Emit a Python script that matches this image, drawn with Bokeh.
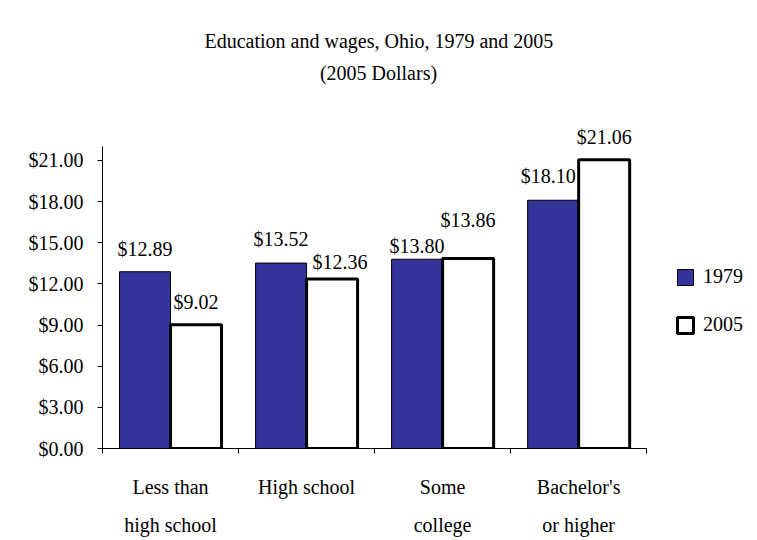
from bokeh.plotting import figure
from bokeh.models import (ColumnDataSource, Range1d, LinearAxis, Label,
                          FixedTicker, NumeralTickFormatter, Legend, LegendItem, LabelSet, Title)
from bokeh.embed import file_html
from bokeh.resources import INLINE

categories = ["Less than\nhigh school", "High school", "Some\ncollege", "Bachelor's\nor higher"]
wages_1979 = [12.89, 13.52, 13.80, 18.10]
wages_2005 = [9.02, 12.36, 13.86, 21.06]
series_names = ["1979", "2005"]
y_ticks = [0, 3, 6, 9, 12, 15, 18, 21]
title_text = "Education and wages, Ohio, 1979 and 2005"
subtitle_text = "(2005 Dollars)"

# small hand nudges of the value labels (screen px), as in the original
nudge_dx_1979 = [0, 0, 0, -5]
nudge_dy_1979 = [16, 17, 6, 17]
nudge_dx_2005 = [0, 8, 0, 0]
nudge_dy_2005 = [16, 10, 31, 16]

FONT = "Liberation Serif"
bw = 0.375
n = len(categories)
centers = [i + 0.5 for i in range(n)]

src = ColumnDataSource(dict(
    x79=[c - bw / 2 for c in centers], x05=[c + bw / 2 for c in centers],
    w79=wages_1979, w05=wages_2005,
    t79=["${:.2f}".format(v) for v in wages_1979],
    t05=["${:.2f}".format(v) for v in wages_2005],
    dx79=nudge_dx_1979, dy79=nudge_dy_1979,
    dx05=nudge_dx_2005, dy05=nudge_dy_2005,
))

p = figure(width=757, height=540, x_range=Range1d(0, 4.8), y_range=Range1d(0, 28.29),
           output_backend="svg", toolbar_location=None, x_axis_location=None, y_axis_location=None,
           min_border_left=102, min_border_right=2, min_border_top=60, min_border_bottom=92)
p.outline_line_color = None
p.xgrid.visible = False
p.ygrid.visible = False
p.background_fill_color = "white"
p.border_fill_color = "white"

# y axis
yax = LinearAxis(ticker=FixedTicker(ticks=y_ticks), formatter=NumeralTickFormatter(format="$0.00"),
                 bounds=(0, 22))
yax.major_tick_in = 0
yax.major_tick_out = 5
yax.minor_tick_line_color = None
yax.axis_line_color = "black"
yax.major_tick_line_color = "black"
yax.major_label_text_font = FONT
yax.major_label_text_font_size = "20px"
yax.major_label_text_color = "black"
yax.major_label_standoff = 14
p.add_layout(yax, "left")

# x axis: labels at category centres, tick marks at category boundaries
xax = LinearAxis(ticker=FixedTicker(ticks=centers, minor_ticks=list(range(n + 1))),
                 major_label_overrides={c: lab for c, lab in zip(centers, categories)},
                 bounds=(0, n))
xax.axis_line_color = "black"
xax.major_tick_line_color = None
xax.major_tick_in = 0
xax.major_tick_out = 5
xax.minor_tick_line_color = "black"
xax.minor_tick_in = 0
xax.minor_tick_out = 5
xax.major_label_text_font = FONT
xax.major_label_text_font_size = "20px"
xax.major_label_text_color = "black"
xax.major_label_text_line_height = 1.75
xax.major_label_standoff = 22
p.add_layout(xax, "below")

r1 = p.vbar(x="x79", top="w79", width=bw, source=src,
            fill_color="#333399", line_color="black", line_width=1)
r2 = p.vbar(x="x05", top="w05", width=bw, source=src,
            fill_color="white", line_color="black", line_width=3)

for field, xcol, ycol, dxf, dyf in (("t79", "x79", "w79", "dx79", "dy79"),
                                    ("t05", "x05", "w05", "dx05", "dy05")):
    ls = LabelSet(x=xcol, y=ycol, text=field, source=src,
                  x_offset=dxf, y_offset=dyf, text_align="center", text_baseline="alphabetic",
                  text_font=FONT, text_font_size="20px", text_color="black", level="overlay")
    p.add_layout(ls)

legend = Legend(items=[LegendItem(label=series_names[0], renderers=[r1]),
                       LegendItem(label=series_names[1], renderers=[r2])],
                location=(573, 112), orientation="vertical")
legend.background_fill_alpha = 0
legend.border_line_color = None
legend.padding = 0
legend.margin = 0
legend.glyph_width = 20
legend.glyph_height = 20
legend.label_standoff = 8
legend.spacing = 25
legend.label_text_font = FONT
legend.label_text_font_size = "20px"
legend.label_text_color = "black"
p.add_layout(legend, "center")

title = Title(text=title_text, align="left", offset=102, text_font=FONT, text_font_size="20px",
              text_font_style="normal", text_color="black", standoff=18)
p.add_layout(title, "above")

sub = Label(x=276, y=376, x_units="screen", y_units="screen", text=subtitle_text,
            text_align="center", text_baseline="middle", text_font=FONT, text_font_size="20px",
            text_color="black", level="overlay")
p.add_layout(sub)

open("out.html", "w").write(file_html(p, INLINE))
